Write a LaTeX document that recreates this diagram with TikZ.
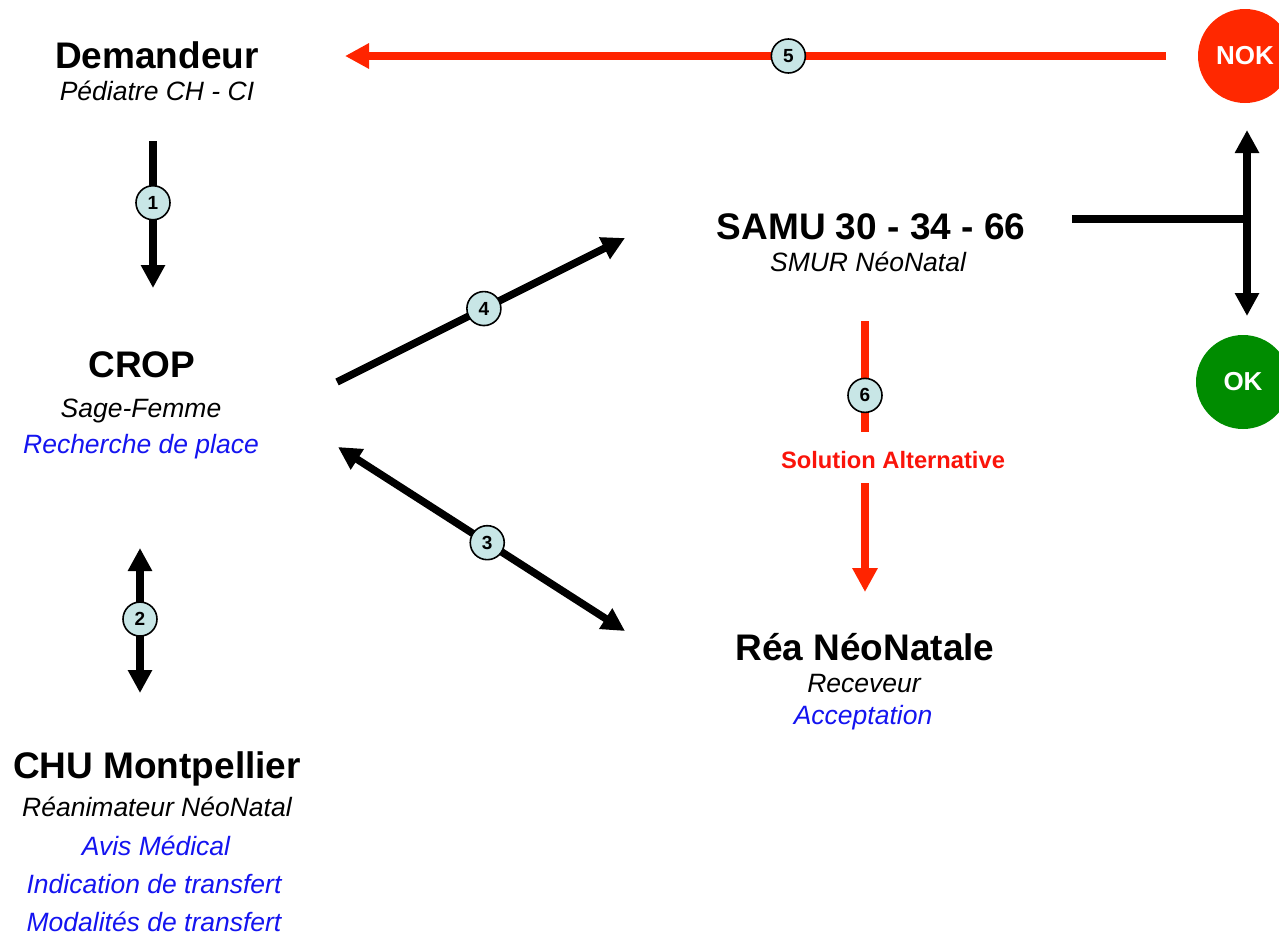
\documentclass[tikz,border=0pt]{standalone}
\usepackage{fontspec}
\setmainfont{Liberation Sans}
\usetikzlibrary{arrows.meta}
\definecolor{arrred}{RGB}{255,36,0}
\definecolor{txtred}{RGB}{250,20,10}
\definecolor{nokred}{RGB}{255,40,0}
\definecolor{okgreen}{RGB}{0,140,0}
\definecolor{numfill}{RGB}{200,230,230}
\definecolor{txtblue}{RGB}{20,20,240}
\tikzset{
  title/.style={anchor=base,inner sep=0pt,font=\fontsize{37}{40}\selectfont\bfseries},
  sub/.style={anchor=base,inner sep=0pt,font=\fontsize{26.5}{30}\selectfont\itshape},
  subblue/.style={sub,text=txtblue},
  conn/.style={line width=7.5pt,-{Triangle[length=23pt,width=23pt]}},
  dconn/.style={line width=7.5pt,{Triangle[length=23pt,width=23pt]}-{Triangle[length=23pt,width=23pt]}},
  plain/.style={line width=7.5pt},
  rconn/.style={line width=8pt,draw=arrred,-{Triangle[length=24pt,width=24pt]}},
  rplain/.style={line width=8pt,draw=arrred},
  numc/.style={circle,draw=black,line width=1.6pt,fill=numfill,minimum size=34pt,inner sep=0pt,font=\fontsize{19}{20}\selectfont\bfseries},
  statec/.style={circle,minimum size=94pt,inner sep=0pt,text=white,font=\fontsize{26}{28}\selectfont\bfseries},
}
\begin{document}
\begin{tikzpicture}[x=1pt,y=-1pt]
\useasboundingbox (0,0) rectangle (1279,938);
\begin{scope}
\clip (0,0) rectangle (1279,938);
% text nodes
\node[title] (dem) at (157,68) {Demandeur};
\node[sub] (demsub) at (157,100) {Pédiatre CH - CI};
\node[title] (crop) at (142,377) {CROP};
\node[sub] (cropsub) at (141,417) {Sage-Femme};
\node[subblue] (cropb) at (141,453) {Recherche de place};
\node[title] (chu) at (157,778) {CHU Montpellier};
\node[sub] (chusub) at (157,816) {Réanimateur NéoNatal};
\node[subblue] (chub1) at (156,855) {Avis Médical};
\node[subblue] (chub2) at (154,893) {Indication de transfert};
\node[subblue] (chub3) at (154,931) {Modalités de transfert};
\node[title] (samu) at (871,239) {SAMU 30 - 34 - 66};
\node[sub] (samusub) at (868,271) {SMUR NéoNatal};
\node[title] (rea) at (865,660) {Réa NéoNatale};
\node[sub] (reasub) at (864,692) {Receveur};
\node[subblue] (reab) at (863,724) {Acceptation};
\node[anchor=base,inner sep=0pt,text=txtred,font=\fontsize{23.7}{26}\selectfont\bfseries] (sol) at (893,468) {Solution Alternative};
% state circles
\node[statec,fill=nokred] (nok) at (1245,56) {NOK};
\node[statec,fill=okgreen] (ok) at (1243,382) {OK};
% connector end points
\coordinate (a1s) at (153,141); \coordinate (a1e) at (153,288);
\coordinate (a2s) at (140,548); \coordinate (a2e) at (140,693);
\coordinate (a3s) at (338,447); \coordinate (a3e) at (625,631);
\coordinate (a4s) at (337,382); \coordinate (a4e) at (625,238);
\coordinate (a5s) at (1166,56); \coordinate (a5e) at (345,56);
\coordinate (a6s) at (865,321); \coordinate (a6m) at (865,432);
\coordinate (a6n) at (865,483); \coordinate (a6e) at (865,592);
\coordinate (bs) at (1072,219); \coordinate (bj) at (1247,219);
\coordinate (bt) at (1247,130); \coordinate (bb) at (1247,316);
% connectors
\draw[conn] (a1s) -- node[numc,pos=0.42] (n1) {1} (a1e);
\draw[dconn] (a2s) -- node[numc,pos=0.49] (n2) {2} (a2e);
\draw[dconn] (a3s) -- node[numc,pos=0.52] (n3) {3} (a3e);
\draw[conn] (a4s) -- node[numc,pos=0.51] (n4) {4} (a4e);
\draw[rconn] (a5s) -- node[numc,pos=0.46] (n5) {5} (a5e);
\draw[rplain] (a6s) -- node[numc,pos=0.67] (n6) {6} (a6m);
\draw[rconn] (a6n) -- (a6e);
\draw[plain] (bs) -- (bj);
\draw[dconn] (bt) -- (bb);
\end{scope}
\end{tikzpicture}
\end{document}
